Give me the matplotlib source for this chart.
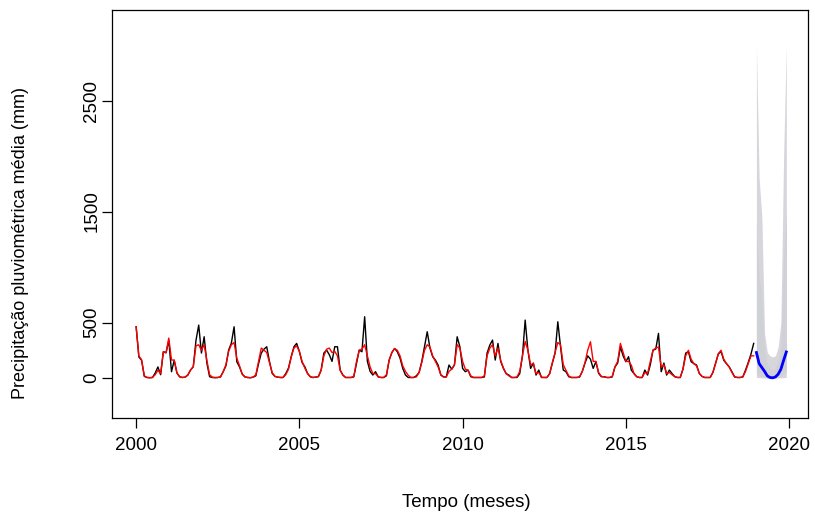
import numpy as np
import matplotlib
matplotlib.use("Agg")
import matplotlib.pyplot as plt

plt.rcParams['font.family'] = ['Liberation Sans', 'DejaVu Sans']

# Observed monthly precipitation (mm), Jan 2000 .. Dec 2018
observed = [
    462, 190, 160, 15, 5, 3, 5, 45, 100, 30, 237, 228,      # 2000
    340, 57, 160, 45, 12, 5, 8, 27, 72, 102, 340, 477,      # 2001
    225, 372, 135, 12, 5, 3, 5, 10, 57, 110, 252, 315,      # 2002
    462, 147, 100, 35, 10, 5, 3, 8, 20, 130, 225, 260,      # 2003
    282, 150, 42, 15, 8, 5, 5, 40, 90, 192, 282, 312,       # 2004
    240, 140, 102, 42, 12, 5, 8, 12, 72, 225, 252, 210,     # 2005
    150, 282, 282, 72, 27, 5, 5, 5, 10, 130, 252, 237,      # 2006
    552, 150, 60, 27, 57, 10, 5, 5, 20, 162, 230, 267,      # 2007
    237, 180, 87, 27, 5, 5, 5, 20, 50, 150, 282, 417,       # 2008
    270, 192, 162, 117, 27, 10, 10, 117, 80, 117, 372, 282, # 2009
    87, 57, 72, 12, 5, 5, 5, 5, 10, 225, 297, 342,          # 2010
    162, 312, 150, 87, 40, 27, 5, 5, 5, 40, 200, 522,       # 2011
    252, 87, 135, 27, 72, 5, 5, 5, 40, 135, 225, 507,       # 2012
    282, 72, 57, 12, 5, 5, 5, 10, 60, 135, 200, 170,        # 2013
    87, 147, 42, 12, 12, 5, 5, 10, 100, 135, 280, 200,      # 2014
    147, 192, 72, 40, 12, 5, 5, 72, 27, 120, 252, 260,      # 2015
    402, 57, 135, 27, 72, 40, 12, 5, 5, 80, 225, 237,       # 2016
    147, 130, 117, 42, 15, 5, 5, 5, 50, 135, 216, 240,      # 2017
    160, 130, 100, 57, 10, 5, 5, 10, 72, 140, 216, 312,     # 2018
]

# Fitted values (red)
fitted = [
    462, 200, 165, 20, 5, 3, 5, 30, 70, 40, 237, 228,
    360, 162, 162, 45, 10, 5, 8, 27, 72, 102, 290, 300,
    250, 300, 160, 30, 8, 5, 5, 10, 57, 120, 240, 300,
    320, 180, 110, 35, 10, 5, 3, 8, 30, 150, 270, 250,
    230, 140, 50, 15, 8, 5, 5, 30, 80, 190, 270, 290,
    240, 150, 90, 40, 12, 5, 8, 15, 70, 200, 260, 270,
    230, 240, 200, 70, 25, 5, 5, 5, 15, 150, 250, 260,
    300, 200, 100, 40, 40, 10, 5, 5, 30, 160, 230, 265,
    250, 200, 110, 60, 25, 5, 5, 10, 50, 140, 250, 300,
    280, 200, 150, 100, 30, 10, 10, 60, 80, 120, 300, 270,
    150, 80, 70, 20, 5, 5, 5, 5, 20, 200, 270, 300,
    200, 270, 160, 90, 40, 20, 5, 5, 10, 60, 200, 330,
    252, 120, 130, 40, 50, 8, 5, 5, 40, 140, 230, 320,
    300, 120, 70, 20, 5, 5, 5, 10, 60, 140, 252, 327,
    150, 150, 50, 15, 10, 5, 5, 15, 100, 150, 312, 230,
    150, 150, 117, 40, 12, 5, 5, 50, 40, 150, 252, 270,
    280, 100, 120, 40, 50, 30, 12, 5, 5, 80, 200, 250,
    170, 130, 110, 42, 15, 5, 5, 5, 50, 130, 220, 250,
    170, 130, 100, 50, 10, 5, 5, 10, 60, 130, 200, 200,
]

# Forecast for 2019 (blue) and prediction intervals (grey)
forecast = [230, 130, 95, 60, 20, 5, 2, 10, 35, 80, 160, 235]
upper95 = [3000, 1800, 1450, 400, 230, 200, 190, 200, 280, 500, 2000, 3000]
lower95 = [5, 3, 2, 1, 0, 0, 0, 0, 1, 2, 3, 5]
upper80 = [1400, 900, 750, 250, 120, 80, 70, 90, 150, 300, 1100, 1500]
lower80 = [40, 20, 15, 8, 3, 1, 0, 2, 8, 20, 40, 60]

start_year = 2000
fc_start = 2019

x_ticks = [2000, 2005, 2010, 2015, 2020]
y_ticks = [0, 500, 1500, 2500]

t_obs = start_year + np.arange(len(observed)) / 12.0
t_fc = fc_start + np.arange(len(forecast)) / 12.0

fig = plt.figure(figsize=(8.15, 5.19), dpi=100)
ax = fig.add_axes([0.1374, 0.1946, 0.854, 0.786])

ax.fill_between(t_fc, lower95, upper95, color='#D6D6DC', linewidth=0)
ax.fill_between(t_fc, lower80, upper80, color='#D0D0D7', linewidth=0)
ax.plot(t_obs, observed, color='black', linewidth=1.0)
ax.plot(t_obs, fitted, color='#FF0000', linewidth=1.0)
ax.plot(t_fc, forecast, color='#0000FF', linewidth=2.0)

ax.set_xlim(1999.26, 2020.58)
ax.set_ylim(-360, 3315)

ax.set_xticks(x_ticks)
ax.set_xticklabels([str(v) for v in x_ticks])
ax.set_yticks(y_ticks)
ax.set_yticklabels([str(v) for v in y_ticks], rotation=90, va='center')

ax.tick_params(axis='both', direction='out', length=7, width=0.9,
               labelsize=13.5, colors='black')
ax.tick_params(axis='x', pad=7)
ax.tick_params(axis='y', pad=1.5)
for s in ax.spines.values():
    s.set_linewidth(0.9)
    s.set_color('black')

ax.set_xlabel('Tempo (meses)', fontsize=13.5)
ax.set_ylabel('Precipitação pluviométrica média (mm)', fontsize=13.0)
ax.xaxis.set_label_coords(0.509, -0.208)
ax.yaxis.set_label_coords(-0.132, 0.43)
ax.xaxis.label.set_va('center')
ax.yaxis.label.set_va('center')

fig.savefig('out.png', dpi=100)
